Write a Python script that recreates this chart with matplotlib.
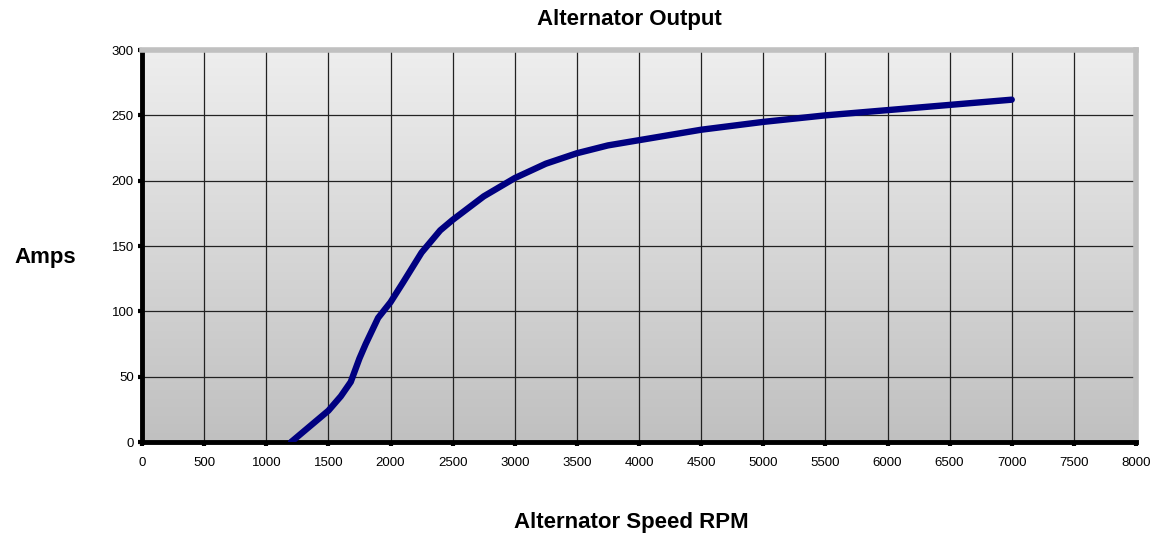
import numpy as np
import matplotlib.pyplot as plt

plt.rcParams['font.family'] = ['Liberation Sans', 'DejaVu Sans']

# alternator speed (rpm) and output current (amps)
rpm = [1200, 1350, 1500, 1600, 1680, 1750, 1800, 1900, 2000, 2100, 2250,
       2400, 2500, 2750, 3000, 3250, 3500, 3750, 4000, 4500, 5000, 5500,
       6000, 6500, 7000]
amps = [0, 12, 24, 35, 46, 64, 75, 95, 107, 122, 145,
        162, 170, 188, 202, 213, 221, 227, 231, 239, 245, 250,
        254, 258, 262]

x_ticks = np.arange(0, 8001, 500)
y_ticks = np.arange(0, 301, 50)


def main():
    fig = plt.figure(figsize=(11.52, 5.35), dpi=100)
    ax = fig.add_axes([0.1233, 0.1738, 0.8628, 0.7327])

    # vertical gradient background, light at top, darker grey at bottom
    grad = np.linspace(238, 192, 256).reshape(-1, 1) / 255.0
    ax.imshow(np.dstack([grad, grad, grad]), extent=[0, 1, 0, 1],
              transform=ax.transAxes, aspect='auto', zorder=0)

    for xv in x_ticks[1:-1]:
        ax.axvline(xv, color='#222222', lw=0.9, zorder=1)
    for yv in y_ticks[1:-1]:
        ax.axhline(yv, color='#222222', lw=0.9, zorder=1)

    ax.plot(rpm, amps, color='#000080', lw=4.6, solid_capstyle='round',
            solid_joinstyle='round', zorder=3)

    ax.set_xlim(0, 8000)
    ax.set_ylim(0, 300)
    ax.set_xticks(x_ticks)
    ax.set_yticks(y_ticks)
    ax.tick_params(labelsize=9.5, length=3, width=3, colors='black')
    ax.tick_params(axis='x', pad=8)
    ax.tick_params(axis='y', pad=3)

    ax.spines['left'].set_linewidth(3.5)
    ax.spines['bottom'].set_linewidth(3.5)
    ax.spines['top'].set_color('#c0c0c0')
    ax.spines['right'].set_color('#c0c0c0')
    ax.spines['top'].set_linewidth(4)
    ax.spines['right'].set_linewidth(4)

    fig.text(0.546, 0.9533, 'Alternator Output', ha='center', va='baseline',
             fontsize=16, fontweight='bold')
    fig.text(0.039, 0.5084, 'Amps', ha='center', va='baseline',
             fontsize=16, fontweight='bold')
    fig.text(0.548, 0.0131, 'Alternator Speed RPM', ha='center',
             va='baseline', fontsize=16, fontweight='bold')

    fig.savefig('out.png', dpi=100)


if __name__ == "__main__":
    main()
